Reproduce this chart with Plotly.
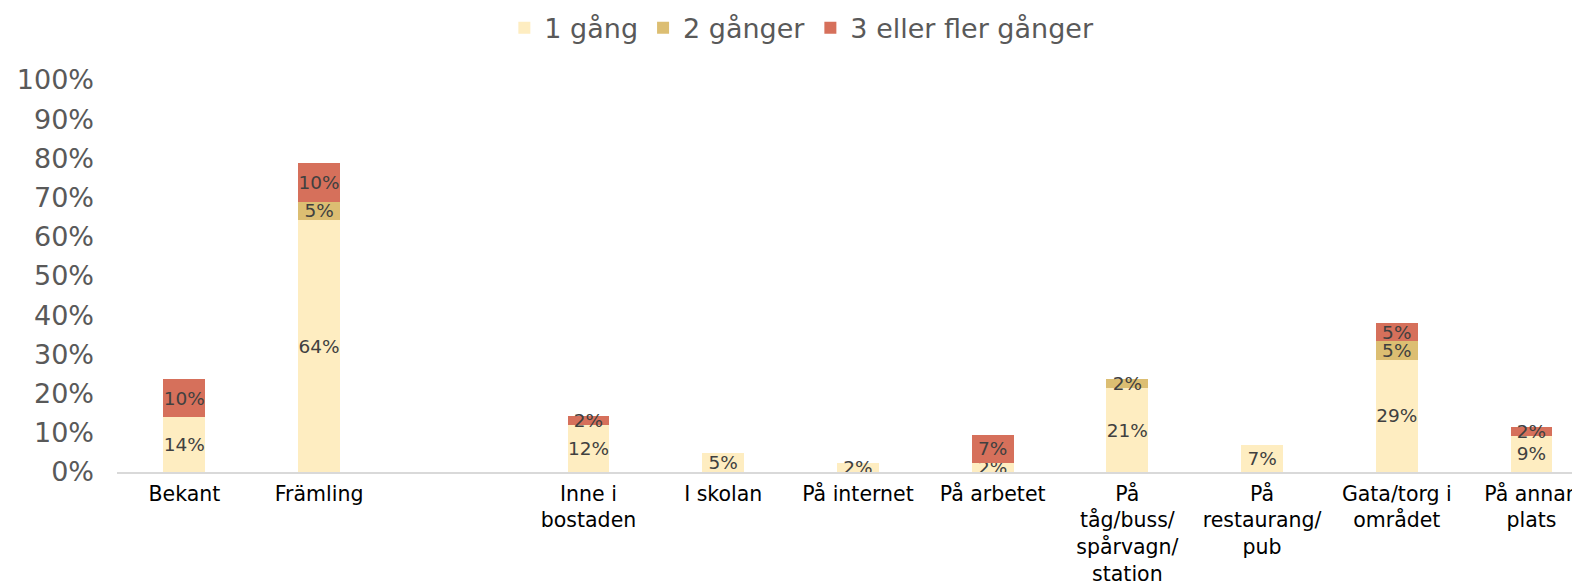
import plotly.graph_objects as go

categories = ["Bekant", "Främling", " ", "Inne i<br>bostaden", "I skolan", "På internet",
              "På arbetet", "På<br>tåg/buss/<br>spårvagn/<br>station", "På<br>restaurang/<br>pub",
              "Gata/torg i<br>området", "På annan<br>plats"]
en_gang = [14.0, 64.2, 0, 12.0, 4.8, 2.4, 2.4, 21.4, 7.0, 28.6, 9.2]
tva_ganger = [0, 4.8, 0, 0, 0, 0, 0, 2.3, 0, 4.7, 0]
tre_fler = [9.6, 9.9, 0, 2.4, 0, 0, 7.1, 0, 0, 4.8, 2.4]
series_names = ["1 gång", "2 gånger", "3 eller fler gånger"]
colors = ["#FEEDC1", "#DCBE72", "#D6705B"]

y_ticks = list(range(0, 101, 10))
y_ticktext = [f"{v}%" for v in y_ticks]

fig = go.Figure()
for name, vals, col in zip(series_names, [en_gang, tva_ganger, tre_fler], colors):
    fig.add_trace(go.Bar(
        x=categories, y=vals, name=name,
        marker=dict(color=col, line=dict(width=0)),
        text=[f"{round(v)}%" if v > 0 else "" for v in vals],
        textposition="inside", insidetextanchor="middle", textangle=0,
        constraintext="none", cliponaxis=False,
        textfont=dict(family="DejaVu Sans", size=18.5, color="#404040"),
        hoverinfo="skip",
    ))

fig.update_layout(
    barmode="stack", bargap=0.69,
    width=1572, height=579,
    margin=dict(l=109, r=0, t=72, b=115),
    plot_bgcolor="white", paper_bgcolor="white",
    font=dict(family="DejaVu Sans", color="#595959"),
    legend=dict(orientation="h", xref="container", yref="container",
                x=0.505, xanchor="center", y=0.965, yanchor="middle",
                font=dict(size=27, color="#595959"), traceorder="normal",
                itemwidth=30),
    xaxis=dict(type="category", range=[-0.5, 10.36], showgrid=False, automargin=False,
               showline=True, linecolor="#D9D9D9", linewidth=2, ticks="",
               ticklabelstandoff=2,
               tickfont=dict(size=20.5, color="#000000"), tickangle=0),
    yaxis=dict(range=[0, 100], tickvals=y_ticks, ticktext=y_ticktext, automargin=False,
               showgrid=False, zeroline=False, showline=False, ticks="",
               ticklabelstandoff=22,
               tickfont=dict(size=27, color="#595959")),
)

fig.write_html("out.html")
